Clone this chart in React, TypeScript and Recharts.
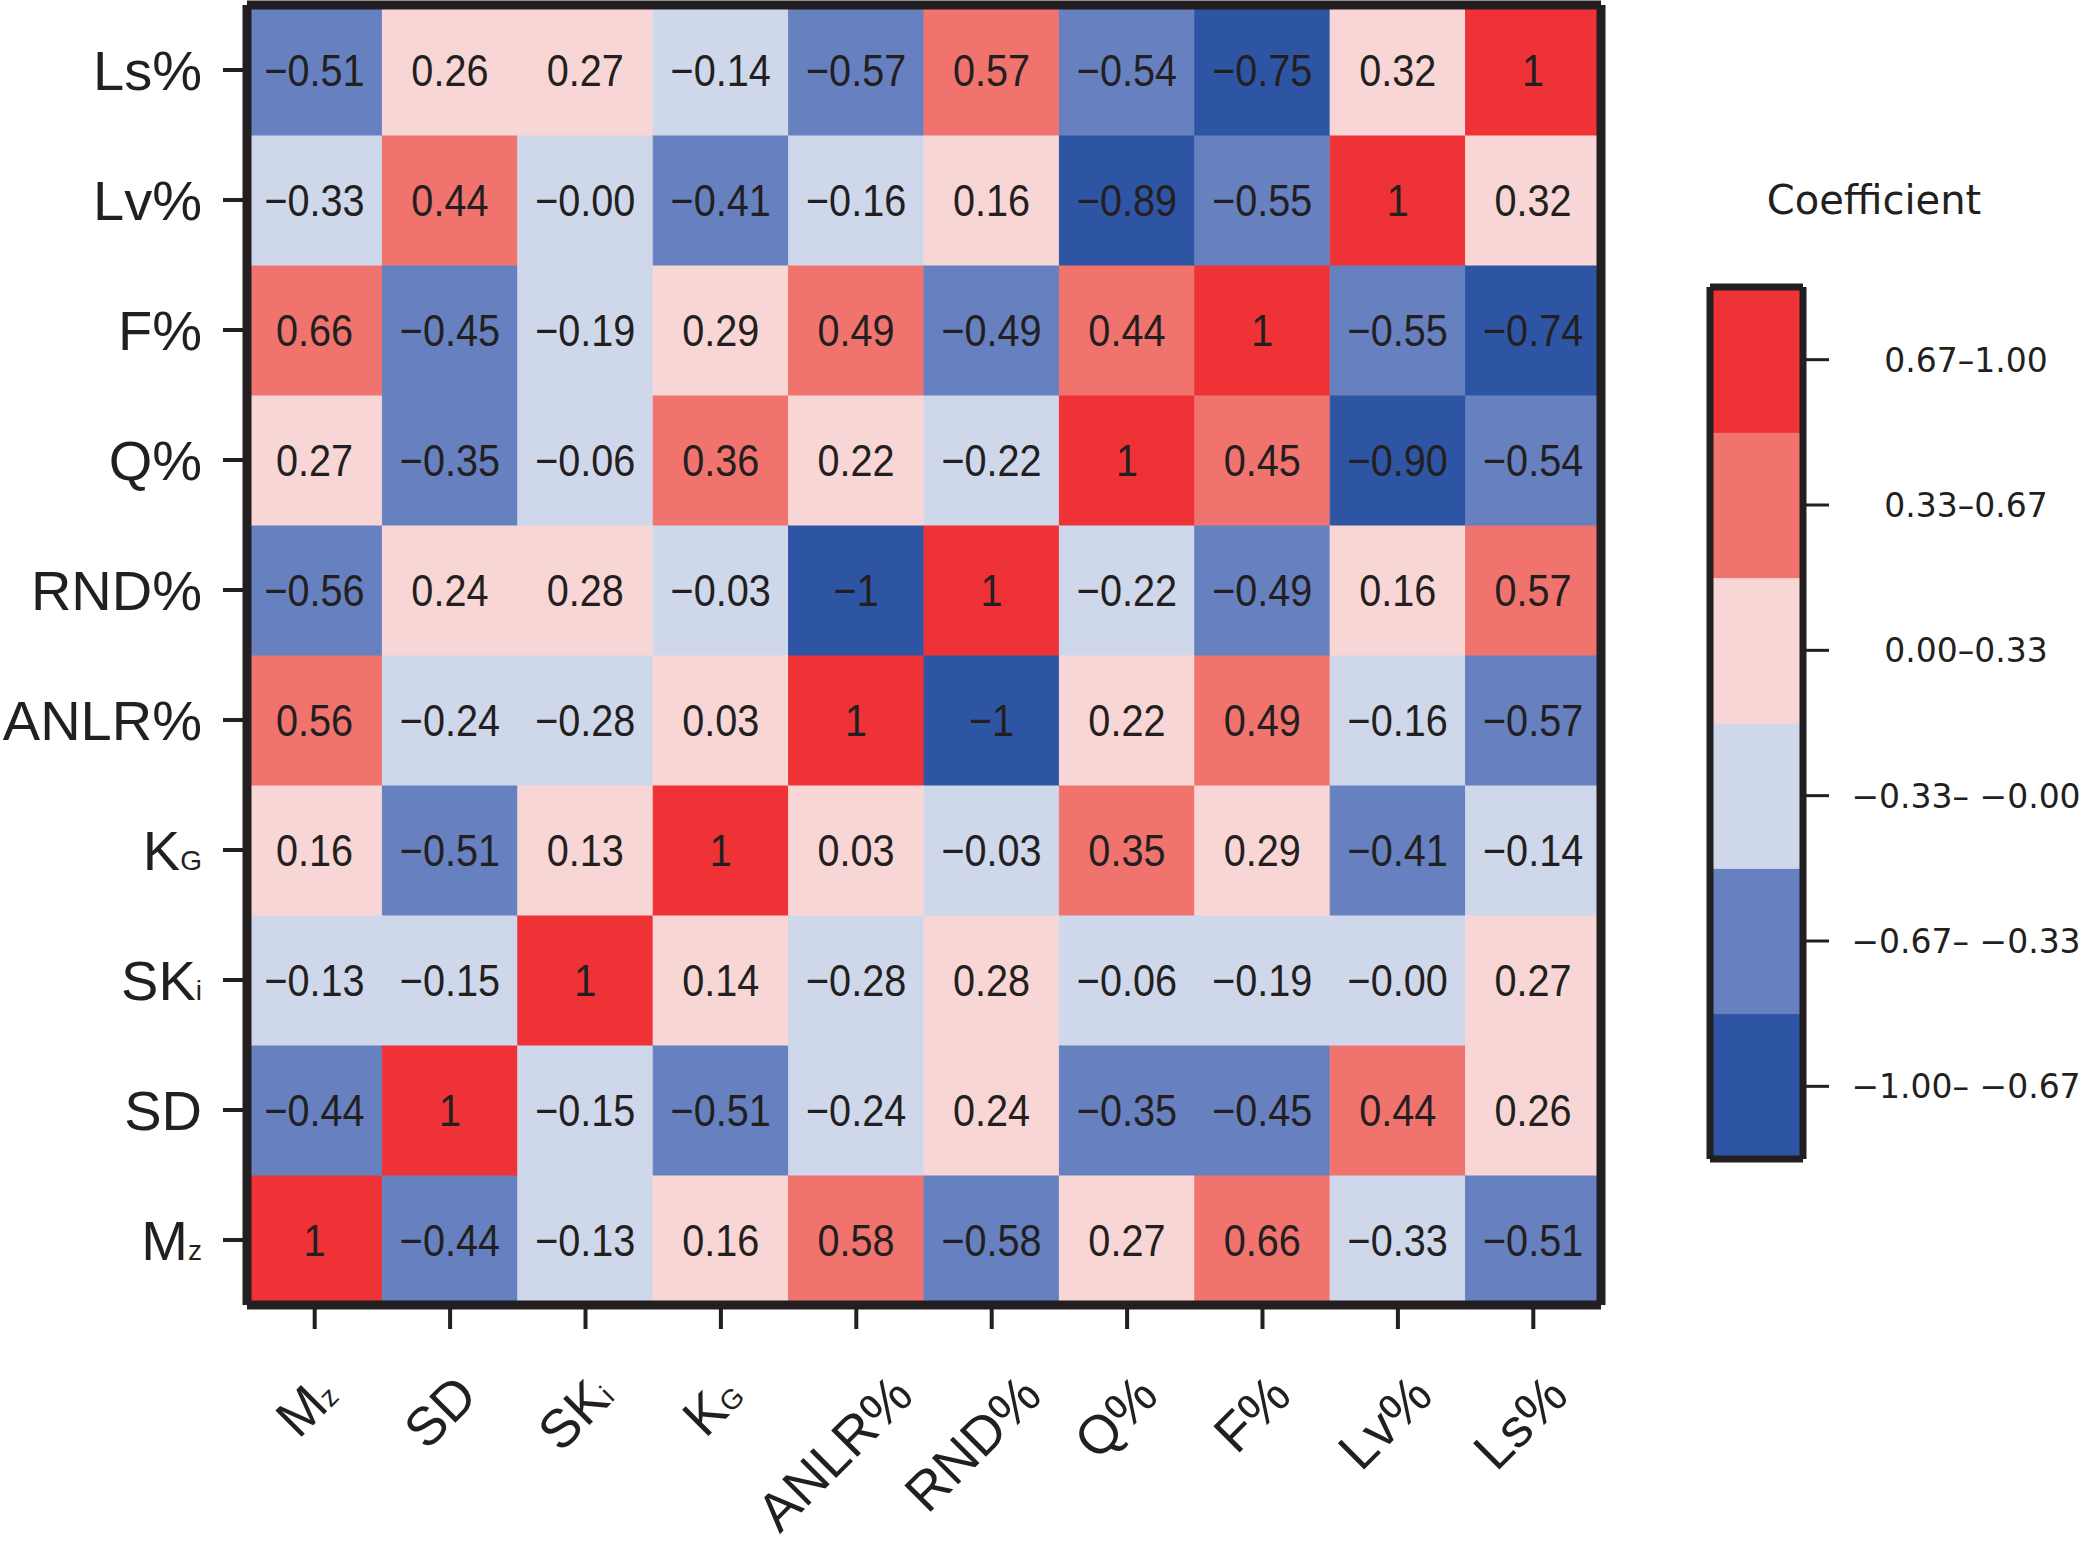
import React from 'react';
import { BarChart, Bar, XAxis, YAxis, Cell, LabelList } from 'recharts';

// variables, bottom row first, same order as the columns
const VARS = ["Mz", "SD", "SKi", "KG", "ANLR%", "RND%", "Q%", "F%", "Lv%", "Ls%"];
const VAR_MAIN = ["M", "SD", "SK", "K", "ANLR%", "RND%", "Q%", "F%", "Lv%", "Ls%"];
const VAR_SUB = ["z", "", "i", "G", "", "", "", "", "", ""];

// one row per variable, values across the columns in VARS order
const CORR_MZ = [1, -0.44, -0.13, 0.16, 0.58, -0.58, 0.27, 0.66, -0.33, -0.51];
const CORR_SD = [-0.44, 1, -0.15, -0.51, -0.24, 0.24, -0.35, -0.45, 0.44, 0.26];
const CORR_SKI = [-0.13, -0.15, 1, 0.14, -0.28, 0.28, -0.06, -0.19, -0.001, 0.27];
const CORR_KG = [0.16, -0.51, 0.13, 1, 0.03, -0.03, 0.35, 0.29, -0.41, -0.14];
const CORR_ANLR = [0.56, -0.24, -0.28, 0.03, 1, -1, 0.22, 0.49, -0.16, -0.57];
const CORR_RND = [-0.56, 0.24, 0.28, -0.03, -1, 1, -0.22, -0.49, 0.16, 0.57];
const CORR_Q = [0.27, -0.35, -0.06, 0.36, 0.22, -0.22, 1, 0.45, -0.9, -0.54];
const CORR_F = [0.66, -0.45, -0.19, 0.29, 0.49, -0.49, 0.44, 1, -0.55, -0.74];
const CORR_LV = [-0.33, 0.44, -0.001, -0.41, -0.16, 0.16, -0.89, -0.55, 1, 0.32];
const CORR_LS = [-0.51, 0.26, 0.27, -0.14, -0.57, 0.57, -0.54, -0.75, 0.32, 1];
const CORR = [CORR_MZ, CORR_SD, CORR_SKI, CORR_KG, CORR_ANLR, CORR_RND, CORR_Q, CORR_F, CORR_LV, CORR_LS];

const Y_TICKS = [0.5, 1.5, 2.5, 3.5, 4.5, 5.5, 6.5, 7.5, 8.5, 9.5];

// legend bins, bottom first
const BIN_LABELS = ["−1.00– −0.67", "−0.67– −0.33", "−0.33– −0.00", "0.00–0.33", "0.33–0.67", "0.67–1.00"];
const BIN_COLORS = ["#2E54A4", "#6680C0", "#CFD7EA", "#F8D6D5", "#F1736E", "#EE3236"];
const BIN_TICKS = [0.5, 1.5, 2.5, 3.5, 4.5, 5.5];

const INK = "#231F20";
const SANS = '"Liberation Sans", Arial, Helvetica, sans-serif';
const WIDE = '"DejaVu Sans", "Liberation Sans", sans-serif';

const colorOf = (v: number) => {
  if (v < -2 / 3) return BIN_COLORS[0];
  if (v < -1 / 3) return BIN_COLORS[1];
  if (v < 0) return BIN_COLORS[2];
  if (v < 1 / 3) return BIN_COLORS[3];
  if (v < 2 / 3) return BIN_COLORS[4];
  return BIN_COLORS[5];
};

const fmt = (v: number) => {
  const s = Math.abs(v) === 1 ? String(v) : v.toFixed(2);
  return s.replace('-', '−');
};

const rows = VARS.map((name, c) => {
  const r: Record<string, any> = { name };
  VARS.forEach((_, k) => {
    r[`h${k}`] = 1;
    r[`l${k}`] = fmt(CORR[k][c]);
  });
  return r;
});

const legendRow = [{ name: "bar", b0: 1, b1: 1, b2: 1, b3: 1, b4: 1, b5: 1 }];

const ctx = typeof document !== 'undefined' ? document.createElement('canvas').getContext('2d') : null;
const textWidth = (s: string, size: number) => {
  if (!s) return 0;
  if (!ctx) return s.length * size * 0.6;
  ctx.font = `${size}px "Liberation Sans"`;
  return ctx.measureText(s).width;
};

const YTick = (props: any) => {
  const { x, y, payload } = props;
  const i = Math.floor(payload.value);
  return (
    <text x={x} y={y} dy="0.36em" textAnchor="end" fontFamily={SANS} fontSize={56} fill={INK}>
      <tspan>{VAR_MAIN[i]}</tspan>
      {VAR_SUB[i] && <tspan fontSize={28}>{VAR_SUB[i]}</tspan>}
    </text>
  );
};

const XTick = (props: any) => {
  const { x, y, payload } = props;
  const i = payload.index ?? VARS.indexOf(payload.value);
  const F = 54;
  const SF = 28;
  const capH = 0.716 * F;
  const w = textWidth(VAR_MAIN[i], F) + textWidth(VAR_SUB[i], SF);
  const cx = x - 0.1 * w - 3;
  const cy = y + 42 + (w + capH) * 0.3536;
  const bx = cx + 0.354 * capH;
  const by = cy + 0.354 * capH;
  return (
    <text x={bx} y={by} textAnchor="middle" transform={`rotate(-45 ${bx} ${by})`}
      fontFamily={SANS} fontSize={F} fill={INK}>
      <tspan>{VAR_MAIN[i]}</tspan>
      {VAR_SUB[i] && <tspan fontSize={SF}>{VAR_SUB[i]}</tspan>}
    </text>
  );
};

// the figure's numbers are a condensed sans, so squeeze the glyphs a little
const CELL_SIZE = 44;
const CellLabel = (p: any) => {
  const x = Number(p.x) + Number(p.width) / 2;
  const y = Number(p.y) + Number(p.height) / 2;
  const s = String(p.value);
  const len = textWidth(s, CELL_SIZE) * 0.9;
  return (
    <text x={x} y={y} dy="0.36em" textAnchor="middle" fontFamily={SANS} fontSize={CELL_SIZE} fill={INK}
      textLength={len} lengthAdjust="spacingAndGlyphs">
      {s}
    </text>
  );
};

const LegendTick = (props: any) => {
  const { x, y, payload } = props;
  const i = BIN_TICKS.indexOf(payload.value);
  return (
    <text x={x + 137} y={y} dy="0.36em" textAnchor="middle" fontFamily={WIDE} fontSize={33} fill={INK}>
      {BIN_LABELS[i]}
    </text>
  );
};

// axis lines sit under the cells, so half of each stroke shows outside the plot
const frame = { stroke: INK, strokeWidth: 9 };
const tickStroke = { stroke: INK, strokeWidth: 4 };
const barFrame = { stroke: INK, strokeWidth: 7 };

export default function App() {
  return (
    <div style={{ position: 'absolute', left: 0, top: 0, width: 2084, height: 1541, background: '#fff' }}>
      <div style={{ position: 'absolute', left: 0, top: 0 }}>
        <BarChart width={1620} height={1541} data={rows} margin={{ top: 4, right: 18, bottom: 0, left: 0 }}
          barCategoryGap={0} barGap={0}>
          {VARS.map((v, k) => (
            <Bar key={v} dataKey={`h${k}`} stackId="s" xAxisId="b" yAxisId="l" isAnimationActive={false}>
              {VARS.map((_, c) => (
                <Cell key={c} fill={colorOf(CORR[k][c])} stroke={colorOf(CORR[k][c])} strokeWidth={1} />
              ))}
              <LabelList dataKey={`l${k}`} content={CellLabel} />
            </Bar>
          ))}
          <XAxis xAxisId="b" dataKey="name" height={236} interval={0} tickSize={24} tickMargin={0}
            tick={<XTick />} axisLine={frame} tickLine={tickStroke} />
          <XAxis xAxisId="t" dataKey="name" orientation="top" height={1} tick={false} tickLine={false}
            axisLine={frame} />
          <YAxis yAxisId="l" type="number" domain={[0, 10]} ticks={Y_TICKS} interval={0} width={247}
            tickSize={24} tickMargin={21} tick={<YTick />} axisLine={frame} tickLine={tickStroke} />
          <YAxis yAxisId="r" orientation="right" type="number" domain={[0, 10]} width={1} tick={false}
            tickLine={false} axisLine={frame} />
        </BarChart>
      </div>

      <div style={{
        position: 'absolute', left: 1674, top: 180, width: 400, textAlign: 'center',
        fontFamily: WIDE, fontSize: 40, lineHeight: '40px', color: INK,
      }}>
        Coefficient
      </div>

      <div style={{ position: 'absolute', left: 1700, top: 277 }}>
        <BarChart width={384} height={892} data={legendRow} margin={{ top: 9, right: 0, bottom: 9, left: 9 }}
          barCategoryGap={0} barGap={0}>
          {BIN_COLORS.map((col, i) => (
            <Bar key={i} dataKey={`b${i}`} stackId="s" xAxisId="b" yAxisId="r" fill={col} stroke={col}
              strokeWidth={1} isAnimationActive={false} />
          ))}
          <XAxis xAxisId="b" dataKey="name" height={1} tick={false} tickLine={false} axisLine={barFrame} />
          <XAxis xAxisId="t" dataKey="name" orientation="top" height={1} tick={false} tickLine={false}
            axisLine={barFrame} />
          <YAxis yAxisId="l" type="number" domain={[0, 6]} width={1} tick={false} tickLine={false}
            axisLine={barFrame} />
          <YAxis yAxisId="r" orientation="right" type="number" domain={[0, 6]} ticks={BIN_TICKS} interval={0}
            width={281} tickSize={26} tickMargin={0} tick={<LegendTick />}
            axisLine={barFrame} tickLine={{ stroke: INK, strokeWidth: 3 }} />
        </BarChart>
      </div>
    </div>
  );
}
